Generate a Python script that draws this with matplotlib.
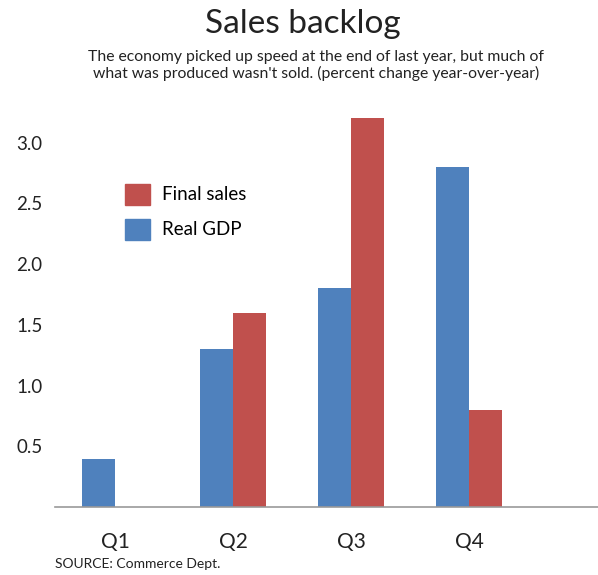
import matplotlib.pyplot as plt
import matplotlib.patches as patches
import numpy as np

quarters = ["Q1", "Q2", "Q3", "Q4"]
real_gdp = [0.4, 1.3, 1.8, 2.8]
final_sales = [0.0, 1.6, 3.2, 0.8]
yticks = [0.5, 1.0, 1.5, 2.0, 2.5, 3.0]

blue = "#4F81BD"
red = "#C0504D"
plt.rcParams['font.family'] = ['Lato', 'DejaVu Sans']

fig = plt.figure(figsize=(5.98, 5.75), dpi=100)
ax = fig.add_axes([0.092, 0.118, 0.908, 0.708])

x = np.arange(len(quarters))
w = 0.28
ax.bar(x - w / 2, real_gdp, w, color=blue, label="Real GDP")
ax.bar(x + w / 2, final_sales, w, color=red, label="Final sales")

ax.set_xlim(-0.51, 4.09)
ax.set_ylim(0, 3.35)
ax.set_xticks(x)
ax.set_xticklabels(quarters, fontsize=15, color="#222222")
ax.set_yticks(yticks)
ax.set_yticklabels([f"{v:.1f}" for v in yticks], fontsize=13.5, color="#222222")
ax.tick_params(axis='both', length=0)
ax.tick_params(axis='x', pad=18)
ax.tick_params(axis='y', pad=9)

for s in ["top", "right", "left"]:
    ax.spines[s].set_visible(False)
ax.spines["bottom"].set_color("#999999")
ax.spines["bottom"].set_linewidth(1.2)

# legend, red first
handles = [patches.Patch(color=red), patches.Patch(color=blue)]
ax.legend(handles, ["Final sales", "Real GDP"], loc="upper left",
          bbox_to_anchor=(0.129, 0.795), frameon=False, fontsize=13.5,
          handlelength=1.35, handleheight=1.35, labelspacing=0.75,
          handletextpad=0.6, borderpad=0, borderaxespad=0)

fig.text(0.507, 0.958, "Sales backlog", ha='center', va='center', fontsize=24, color="#222222")
fig.text(0.528, 0.886, "The economy picked up speed at the end of last year, but much of\n"
         "what was produced wasn't sold. (percent change year-over-year)",
         ha='center', va='center', fontsize=11.3, color="#222222", linespacing=1.2)
fig.text(0.092, 0.019, "SOURCE: Commerce Dept.", ha='left', va='center', fontsize=10, color="#222222")

fig.savefig("out.png", dpi=100)
